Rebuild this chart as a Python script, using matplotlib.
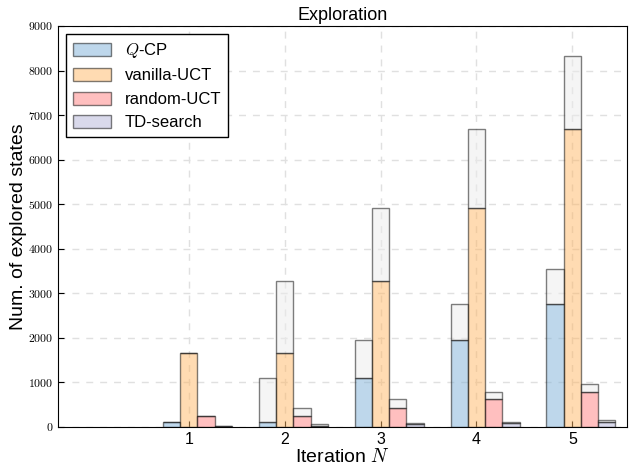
import matplotlib
matplotlib.use("Agg")
import matplotlib.pyplot as plt
import numpy as np
from matplotlib.ticker import FuncFormatter

plt.rcParams['font.family'] = ['Liberation Sans', 'DejaVu Sans']
plt.rcParams['mathtext.fontset'] = 'cm'

iterations = [1, 2, 3, 4, 5]
methods = ['$Q$-CP', 'vanilla-UCT', 'random-UCT', 'TD-search']
qcp = [120, 1100, 1960, 2770, 3550]
vanilla = [1650, 3280, 4920, 6680, 8320]
random_uct = [250, 420, 620, 790, 960]
td = [25, 60, 85, 110, 150]
series = [qcp, vanilla, random_uct, td]
colors = ['#7fb1d8', '#ffb866', '#ff8080', '#b4b4d8']
gray = '#ececec'

fig = plt.figure(figsize=(6.29, 4.70), dpi=100)
ax = fig.add_axes([0.0922, 0.0915, 0.9046, 0.8532])

x = np.array(iterations, dtype=float)
w = 0.18
offsets = [-1, 0, 1, 2]
for vals, col, off, lab in zip(series, colors, offsets, methods):
    vals = np.array(vals, dtype=float)
    base = np.concatenate([[vals[0]], vals[:-1]])
    extra = vals - base
    ax.bar(x + off * w, base, width=w, color=col, alpha=0.5,
           edgecolor='black', linewidth=1.0, label=lab, zorder=2)
    ax.bar(x + off * w, extra, bottom=base, width=w, color=gray, alpha=0.5,
           edgecolor='black', linewidth=1.0, zorder=2)

ax.set_xlim(-0.365, 5.57)
ax.set_ylim(0, 9000)
ax.set_xticks(iterations)
ax.set_yticks(np.arange(0, 9001, 1000))
ax.yaxis.set_major_formatter(FuncFormatter(lambda v, p: f'${int(v)}$'))
ax.tick_params(axis='y', labelsize=8.5, direction='in', length=4)
ax.tick_params(axis='x', labelsize=11.5, direction='in', length=4)
ax.grid(True, linestyle=(0, (5, 5)), color='#e0e0e0', linewidth=1.0, zorder=0)
ax.set_axisbelow(True)

ax.set_title('Exploration', fontsize=13, pad=4)
ax.set_xlabel('Iteration $N$', fontsize=14, labelpad=1)
ax.set_ylabel('Num. of explored states', fontsize=14, labelpad=1)

leg = ax.legend(loc='upper left', fontsize=12, fancybox=False, framealpha=1,
                edgecolor='black', handlelength=2.3, handleheight=0.8,
                borderaxespad=0.5, labelspacing=0.5)
leg.get_frame().set_linewidth(1.0)

fig.savefig('out.png', dpi=100)
